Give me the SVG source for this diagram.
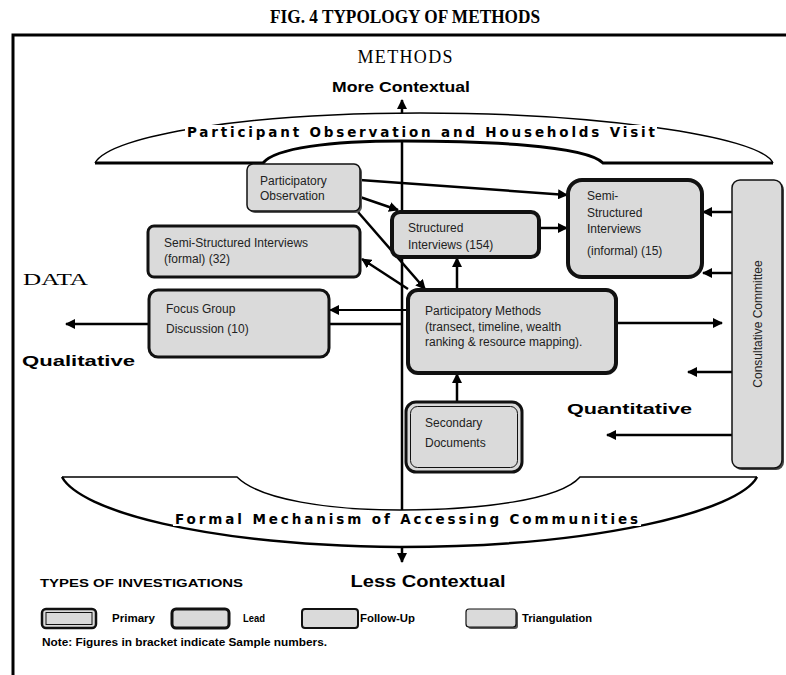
<svg xmlns="http://www.w3.org/2000/svg" width="786" height="675" viewBox="0 0 786 675">
<style>
.box{fill:#dadada;stroke:#111}
.tri{stroke-width:1.5}
.fol{stroke-width:3}
.lead{stroke-width:4}
.t{font-family:"Liberation Sans",Arial,sans-serif;font-size:12px;fill:#222}
.heavy{font-family:"Liberation Sans",Arial,sans-serif;font-weight:900;fill:#000}
.band{font-family:"DejaVu Sans","Liberation Sans",sans-serif;font-weight:bold;font-size:13.5px;fill:#000}
.serif{font-family:"Liberation Serif","Times New Roman",serif;fill:#000}
.c{fill:none;stroke:#000;stroke-width:2.5}
.thin{stroke-width:2}
.leg{font-family:"Liberation Sans",Arial,sans-serif;font-weight:900;font-size:10px;fill:#000}
</style>
<defs>
<marker id="ah" viewBox="0 0 10 10" refX="9" refY="5" markerWidth="10" markerHeight="10" markerUnits="userSpaceOnUse" orient="auto"><path d="M0,0 L10,5 L0,10 z" fill="#000"/></marker>
</defs>
<rect width="786" height="675" fill="#fff"/>
<text class="serif" x="405" y="23" font-size="19" font-weight="bold" text-anchor="middle" textLength="270" lengthAdjust="spacingAndGlyphs">FIG. 4 TYPOLOGY OF METHODS</text>
<path d="M13,675 V35 H786" fill="none" stroke="#000" stroke-width="3"/>
<text class="serif" x="405" y="63" font-size="18" text-anchor="middle" textLength="95" lengthAdjust="spacing">METHODS</text>
<text class="heavy" x="401" y="92" font-size="15" text-anchor="middle" textLength="138" lengthAdjust="spacingAndGlyphs">More Contextual</text>
<text class="serif" x="23" y="285" font-size="16" textLength="65" lengthAdjust="spacingAndGlyphs">DATA</text>
<text class="heavy" x="22" y="366" font-size="15" textLength="113" lengthAdjust="spacingAndGlyphs">Qualitative</text>
<text class="heavy" x="567" y="414" font-size="15" textLength="125" lengthAdjust="spacingAndGlyphs">Quantitative</text>
<text class="heavy" x="428" y="587" font-size="17" font-weight="bold" text-anchor="middle" textLength="155" lengthAdjust="spacingAndGlyphs">Less Contextual</text>

<g id="connectors">
<path class="c" d="M402,141 V510"/>
<path class="c" d="M402,114 V100" marker-end="url(#ah)"/>
<path class="c" d="M402,546 V562" marker-end="url(#ah)"/>
<path class="c" d="M360,180 L567,195" marker-end="url(#ah)"/>
<path class="c" d="M360,197 L398,210" marker-end="url(#ah)"/>
<path class="c" d="M358,212 L425,289" marker-end="url(#ah)"/>
<path class="c" d="M408,289 L362,259" marker-end="url(#ah)"/>
<path class="c" d="M457,290 V258" marker-end="url(#ah)"/>
<path class="c" d="M539,228 H567" marker-end="url(#ah)"/>
<path class="c" d="M732,212 H703" marker-end="url(#ah)"/>
<path class="c" d="M732,273 H703" marker-end="url(#ah)"/>
<path class="c" d="M616,323 H722" marker-end="url(#ah)"/>
<path class="c" d="M732,372 H688" marker-end="url(#ah)"/>
<path class="c" d="M732,435 H607" marker-end="url(#ah)"/>
<path class="c" d="M457,402 V374" marker-end="url(#ah)"/>
<path class="c thin" d="M408,310 H330" marker-end="url(#ah)"/>
<path class="c" d="M149,324 H66" marker-end="url(#ah)"/>
<path class="c" d="M329,324 H402"/>
</g>

<g id="top-band">
<path d="M95,163 C110,135 250,113 420,113 C590,113 760,135 773,163 L603,163 C585,145 480,141 403,141 C330,141 275,148 263,163 Z" fill="#fff"/>
<path d="M95,163 C110,135 250,113 420,113 C590,113 760,135 773,163" fill="none" stroke="#000" stroke-width="1.5"/>
<path d="M95,163 H263 C275,148 330,141 403,141 C480,141 585,145 603,163 H773" fill="none" stroke="#000" stroke-width="3"/>
<rect x="185" y="125" width="472" height="13" fill="#fff"/>
<text class="band" x="187" y="137" textLength="468" lengthAdjust="spacing">Participant Observation and Households Visit</text>
</g>

<g id="bottom-band">
<path d="M62,477 C80,510 200,545 400,547 C600,547 740,510 757,477 L580,477 C560,500 480,510 400,510 C330,510 260,500 237,477 Z" fill="#fff"/>
<path d="M62,477 H237 C260,500 330,510 400,510 C480,510 560,500 580,477 H757" fill="none" stroke="#000" stroke-width="1.5"/>
<path d="M62,477 C80,510 200,545 400,547 C600,547 740,510 757,477" fill="none" stroke="#000" stroke-width="2.5"/>
<rect x="173" y="512" width="468" height="14" fill="#fff"/>
<text class="band" x="175" y="524" textLength="463" lengthAdjust="spacing">Formal Mechanism of Accessing Communities</text>
</g>

<g id="participatory-observation">
<rect x="249" y="166" width="113" height="47" rx="6" fill="#555"/>
<rect class="box tri" x="247" y="164" width="113" height="47" rx="6"/>
<text class="t" x="260" y="185">Participatory</text>
<text class="t" x="260" y="200">Observation</text>
</g>
<g id="ssi-formal">
<rect class="box fol" x="148" y="226" width="212" height="51" rx="6"/>
<text class="t" x="164" y="247">Semi-Structured Interviews</text>
<text class="t" x="164" y="263">(formal) (32)</text>
</g>
<g id="focus-group">
<rect class="box fol" x="149" y="290" width="180" height="67" rx="9"/>
<text class="t" x="166" y="313">Focus Group</text>
<text class="t" x="166" y="333">Discussion (10)</text>
</g>
<g id="structured-interviews">
<rect class="box lead" x="392" y="212" width="147" height="45" rx="8"/>
<text class="t" x="408" y="232">Structured</text>
<text class="t" x="408" y="249">Interviews (154)</text>
</g>
<g id="ssi-informal">
<rect class="box lead" x="568" y="180" width="134" height="97" rx="14"/>
<text class="t" x="587" y="200">Semi-</text>
<text class="t" x="587" y="217">Structured</text>
<text class="t" x="587" y="233">Interviews</text>
<text class="t" x="587" y="255">(informal) (15)</text>
</g>
<g id="participatory-methods">
<rect class="box lead" x="408" y="290" width="208" height="83" rx="10"/>
<text class="t" x="425" y="315">Participatory Methods</text>
<text class="t" x="425" y="331">(transect, timeline, wealth</text>
<text class="t" x="425" y="346">ranking &amp; resource mapping).</text>
</g>
<g id="secondary-documents">
<rect class="box" x="406" y="402" width="116" height="70" rx="10" stroke-width="3"/>
<rect x="410.5" y="406.5" width="107" height="61" rx="7" fill="none" stroke="#111" stroke-width="1"/>
<text class="t" x="425" y="427">Secondary</text>
<text class="t" x="425" y="447">Documents</text>
</g>
<g id="consultative-committee">
<rect x="734" y="182" width="50" height="288" rx="8" fill="#444"/>
<rect class="box tri" x="732" y="180" width="50" height="288" rx="8"/>
<text class="t" font-size="13" transform="translate(762,324) rotate(-90)" text-anchor="middle">Consultative Committee</text>
</g>

<g id="legend">
<text class="leg" x="40" y="587" textLength="203" lengthAdjust="spacingAndGlyphs">TYPES OF INVESTIGATIONS</text>
<rect x="42" y="609" width="54" height="19" rx="4" fill="#dadada" stroke="#111" stroke-width="2.5"/>
<rect x="46" y="612.5" width="46" height="12" fill="none" stroke="#111" stroke-width="1"/>
<text class="leg" x="112" y="622" textLength="43" lengthAdjust="spacingAndGlyphs">Primary</text>
<rect x="172" y="609" width="57" height="19" rx="4" fill="#dadada" stroke="#111" stroke-width="3"/>
<text class="leg" x="243" y="622" textLength="22" lengthAdjust="spacingAndGlyphs">Lead</text>
<rect x="302" y="609" width="56" height="19" rx="3" fill="#dadada" stroke="#111" stroke-width="2"/>
<text class="leg" x="360" y="622" textLength="55" lengthAdjust="spacingAndGlyphs">Follow-Up</text>
<rect x="468" y="611" width="50" height="18" rx="3" fill="#555"/>
<rect x="466" y="609" width="50" height="18" rx="3" fill="#dadada" stroke="#111" stroke-width="1.2"/>
<text class="leg" x="522" y="622" textLength="70" lengthAdjust="spacingAndGlyphs">Triangulation</text>
<text class="leg" x="42" y="646" textLength="285" lengthAdjust="spacingAndGlyphs">Note: Figures in bracket indicate Sample numbers.</text>
</g>
</svg>
